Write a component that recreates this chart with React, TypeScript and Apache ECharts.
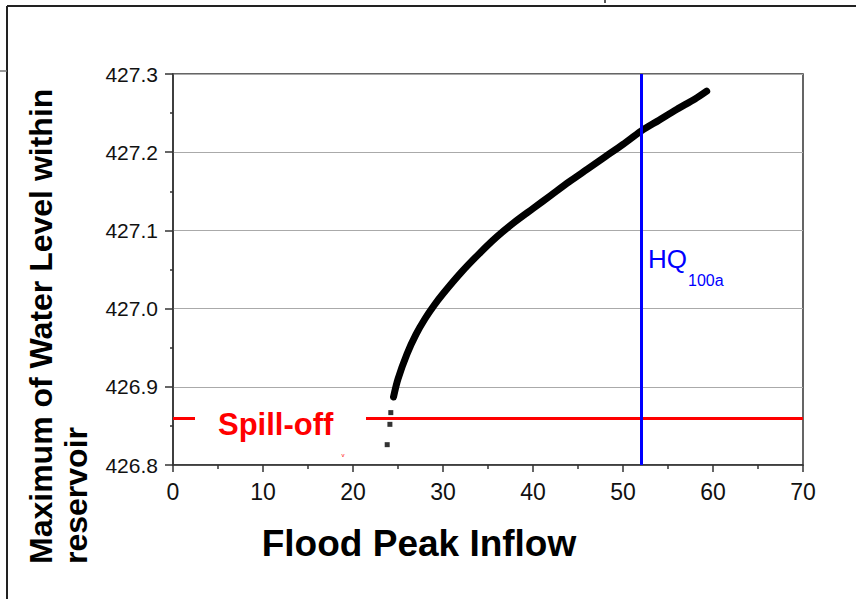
import React, { useEffect, useRef } from "react";
import * as echarts from "echarts";

// Simulated maximum water level vs. flood peak inflow (dense band)
const curveX = [24.5, 25, 26, 27, 28, 29, 30, 32, 34, 36, 38, 40, 42, 44, 46, 48, 50, 52, 54, 56, 58, 59.3];
const curveY = [
  426.887, 426.91, 426.942, 426.967, 426.987, 427.004, 427.019, 427.046, 427.07, 427.092, 427.111,
  427.128, 427.145, 427.162, 427.178, 427.194, 427.21, 427.227, 427.241, 427.255, 427.268, 427.278,
];
// Isolated points below the spill-off level
const dotsX = [23.8, 24.1, 24.2];
const dotsY = [426.826, 426.852, 426.867];
// Reference levels
const spillLevel = 426.86;
const hq100a = 52;
// Axis ranges / ticks
const xTicks = [0, 10, 20, 30, 40, 50, 60, 70];
const yTicks = [426.8, 426.9, 427.0, 427.1, 427.2, 427.3];

const FONT = "'Liberation Sans', Arial, sans-serif";

export default function App() {
  const ref = useRef<HTMLDivElement>(null);
  useEffect(() => {
    if (!ref.current) return;
    const chart = echarts.init(ref.current, undefined, { renderer: "svg" });
    const curve = curveX.map((x, i) => [x, curveY[i]]);
    const dots = dotsX.map((x, i) => [x, dotsY[i]]);
    chart.setOption({
      animation: false,
      backgroundColor: "#ffffff",
      grid: {
        left: 173,
        right: 53,
        top: 74,
        bottom: 134,
        show: true,
        borderColor: "#333",
        borderWidth: 1.5,
        backgroundColor: "transparent",
      },
      xAxis: {
        type: "value",
        min: xTicks[0],
        max: xTicks[xTicks.length - 1],
        interval: 10,
        axisLine: { show: true, onZero: false, lineStyle: { color: "#333", width: 1.5 } },
        axisTick: { show: true, inside: false, length: 7, lineStyle: { color: "#333", width: 1.5 } },
        minorTick: { show: true, splitNumber: 2, length: 4, lineStyle: { color: "#333", width: 1.5 } },
        splitLine: { show: false },
        axisLabel: { margin: 15, fontSize: 23, fontFamily: FONT, color: "#111" },
      },
      yAxis: {
        type: "value",
        min: yTicks[0],
        max: yTicks[yTicks.length - 1],
        interval: 0.1,
        axisLine: { show: true, onZero: false, lineStyle: { color: "#333", width: 1.5 } },
        axisTick: { show: true, inside: false, length: 8, lineStyle: { color: "#333", width: 1.5 } },
        minorTick: { show: true, splitNumber: 2, length: 3, lineStyle: { color: "#333", width: 1.5 } },
        splitLine: { show: true, lineStyle: { color: "#aaa", width: 1.2 } },
        axisLabel: {
          margin: 15,
          fontSize: 21,
          fontFamily: FONT,
          color: "#111",
          formatter: (v: number) => v.toFixed(1),
        },
      },
      series: [
        {
          type: "line",
          data: curve,
          smooth: 0.3,
          showSymbol: false,
          symbol: "none",
          lineStyle: { color: "#000", width: 7, cap: "round", join: "round" },
          z: 3,
        },
        {
          type: "scatter",
          data: dots,
          symbol: "rect",
          symbolSize: 5,
          itemStyle: { color: "#000" },
          z: 4,
        },
        {
          type: "line",
          data: [],
          z: 2,
          markLine: {
            silent: true,
            symbol: "none",
            label: { show: false },
            data: [{ yAxis: spillLevel, lineStyle: { color: "#ff0000", width: 3, type: "solid" } }],
          },
        },
        {
          type: "line",
          data: [],
          z: 5,
          markLine: {
            silent: true,
            symbol: "none",
            label: { show: false },
            data: [{ xAxis: hq100a, lineStyle: { color: "#0000ff", width: 3, type: "solid" } }],
          },
        },
      ],
      graphic: [
        // page frame
        { type: "line", z: 100, shape: { x1: 7, y1: 6, x2: 856, y2: 6 }, style: { stroke: "#222", lineWidth: 2 } },
        { type: "line", z: 100, shape: { x1: 7, y1: 6, x2: 7, y2: 599 }, style: { stroke: "#222", lineWidth: 2 } },
        { type: "line", z: 100, shape: { x1: 0, y1: 71, x2: 7, y2: 71 }, style: { stroke: "#777", lineWidth: 1.5 } },
        { type: "line", z: 100, shape: { x1: 605, y1: 0, x2: 605, y2: 3 }, style: { stroke: "#222", lineWidth: 1.5 } },
        // white box behind Spill-off label
        { type: "rect", z: 100, shape: { x: 195, y: 398, width: 171, height: 64 }, style: { fill: "#ffffff" } },
        {
          type: "text",
          z: 101,
          x: 218,
          y: 424,
          style: { text: "Spill-off", fill: "#ff0000", font: `bold 31px ${FONT}`, align: "left", verticalAlign: "middle" },
        },
        {
          type: "text",
          z: 101,
          x: 343,
          y: 455,
          style: { text: "v", fill: "#ff0000", font: `6px ${FONT}`, align: "center", verticalAlign: "middle" },
        },
        // HQ100a label
        {
          type: "text",
          z: 101,
          x: 648,
          y: 272,
          style: { text: "HQ", fill: "#0000ff", font: `26px ${FONT}`, align: "left", verticalAlign: "bottom" },
        },
        {
          type: "text",
          z: 101,
          x: 688,
          y: 288,
          style: { text: "100a", fill: "#0000ff", font: `16px ${FONT}`, align: "left", verticalAlign: "bottom" },
        },
        // axis titles
        {
          type: "text",
          z: 101,
          x: 419,
          y: 543,
          style: { text: "Flood Peak Inflow", fill: "#000", font: `bold 37px ${FONT}`, align: "center", verticalAlign: "middle" },
        },
        {
          type: "text",
          z: 101,
          x: 41,
          y: 564,
          rotation: Math.PI / 2,
          style: { text: "Maximum of Water Level within", fill: "#000", font: `bold 32px ${FONT}`, align: "left", verticalAlign: "middle" },
        },
        {
          type: "text",
          z: 101,
          x: 76,
          y: 564,
          rotation: Math.PI / 2,
          style: { text: "reservoir", fill: "#000", font: `bold 32px ${FONT}`, align: "left", verticalAlign: "middle" },
        },
      ],
    });
    return () => chart.dispose();
  }, []);
  return <div ref={ref} style={{ position: "fixed", left: 0, top: 0, width: 856, height: 599 }} />;
}
